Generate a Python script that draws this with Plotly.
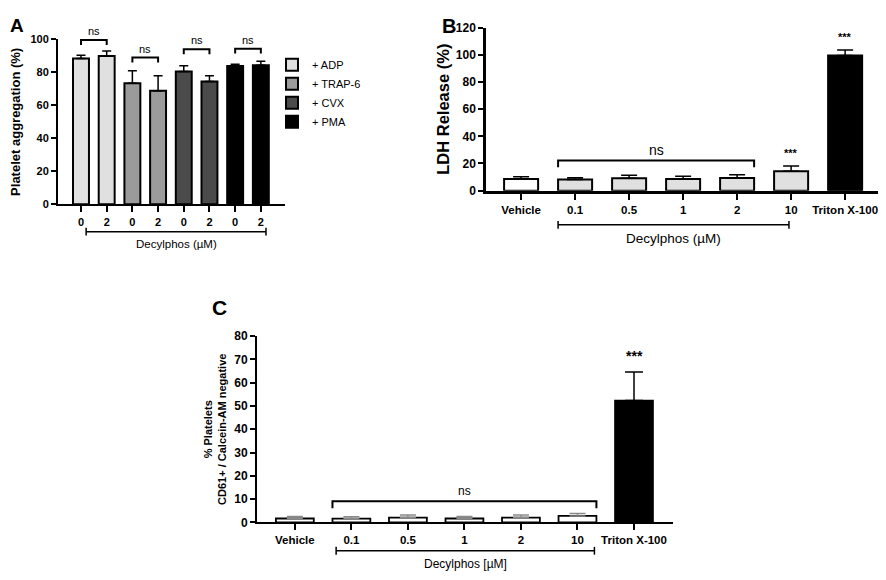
import plotly.graph_objects as go

W, H = 886, 580
OFF = 8  # the page body keeps an 8px margin round the plot
FONT = "Liberation Sans, Arial, sans-serif"

# ---- panel A data: platelet aggregation
a_groups = ["+ ADP", "+ TRAP-6", "+ CVX", "+ PMA"]
a_colors = ["#e0e0e0", "#9b9b9b", "#4b4b4b", "#000000"]
a_doses = ["0", "2"]
a_mean = [[88.4, 90.0], [73.4, 68.8], [80.6, 74.5], [83.8, 84.4]]
a_sd = [[2.0, 3.0], [7.6, 9.1], [3.4, 3.4], [1.2, 2.4]]
a_sig = ["ns", "ns", "ns", "ns"]
a_sig_y = [99.6, 89.0, 94.0, 94.4]

# ---- panel B data: LDH release
b_labels = ["Vehicle", "0.1", "0.5", "1", "2", "10", "Triton X-100"]
b_colors = ["#ffffff", "#e0e0e0", "#e0e0e0", "#e0e0e0", "#e0e0e0", "#e0e0e0", "#000000"]
b_mean = [8.5, 8.3, 9.1, 8.6, 9.3, 14.3, 99.5]
b_sd = [1.8, 1.2, 2.2, 2.0, 2.5, 3.9, 4.0]
b_stars = ["", "", "", "", "", "***", "***"]

# ---- panel C data: CD61+ / Calcein-AM negative
c_labels = ["Vehicle", "0.1", "0.5", "1", "2", "10", "Triton X-100"]
c_colors = ["#ffffff", "#ffffff", "#ffffff", "#ffffff", "#ffffff", "#ffffff", "#000000"]
c_mean = [1.7, 1.6, 2.1, 1.7, 2.1, 2.8, 52.3]
c_sd = [0.8, 0.8, 1.1, 0.9, 1.1, 1.0, 12.3]
c_stars = ["", "", "", "", "", "", "***"]


def fx(pix):
    return (pix - OFF) / W


def py(pix):
    return 1 - (pix - OFF) / H


def yp(v, dom, top):
    return dom[0] + (dom[1] - dom[0]) * v / top


# subplot geometry (paper coords)
A_X, A_Y = [fx(58), fx(285)], [py(202), py(33)]
B_X, B_Y = [fx(486), fx(884)], [py(188), py(21)]
C_X, C_Y = [fx(257), fx(673)], [py(528), py(337)]
A_TOP, B_TOP, C_TOP = 100, 120, 80
BW_A, BW_B, BW_C = 0.62, 0.63, 0.67

fig = go.Figure()

# A bars, one trace per agonist so the legend comes out right
for g, name in enumerate(a_groups):
    fig.add_trace(go.Bar(
        x=[2 * g, 2 * g + 1], y=a_mean[g], name=name,
        width=BW_A, xaxis="x", yaxis="y",
        marker=dict(color=a_colors[g], line=dict(color="black", width=2)),
        error_y=dict(type="data", symmetric=False, array=a_sd[g], arrayminus=[0, 0],
                     color="black", thickness=1.5, width=4.5),
        hoverinfo="skip"))

# B bars
fig.add_trace(go.Bar(
    x=list(range(len(b_labels))), y=b_mean, width=BW_B, showlegend=False,
    xaxis="x2", yaxis="y2",
    marker=dict(color=b_colors, line=dict(color="black", width=2)),
    error_y=dict(type="data", symmetric=False, array=b_sd, arrayminus=[0] * len(b_sd),
                 color="black", thickness=1.5, width=8),
    hoverinfo="skip"))

# C bars: low doses get grey error bars, Triton black
n = len(c_labels) - 1
fig.add_trace(go.Bar(
    x=list(range(n)), y=c_mean[:n], width=BW_C, showlegend=False,
    xaxis="x3", yaxis="y3",
    marker=dict(color=c_colors[:n], line=dict(color="black", width=1.8)),
    error_y=dict(type="data", symmetric=False, array=c_sd[:n], arrayminus=[0] * n,
                 color="#8a8a8a", thickness=1.5, width=8),
    hoverinfo="skip"))
fig.add_trace(go.Bar(
    x=[n], y=c_mean[n:], width=BW_C, showlegend=False,
    xaxis="x3", yaxis="y3",
    marker=dict(color=c_colors[n:], line=dict(color="black", width=1.8)),
    error_y=dict(type="data", symmetric=False, array=c_sd[n:], arrayminus=[0],
                 color="black", thickness=1.5, width=9),
    hoverinfo="skip"))

shapes = []
annos = []
line = dict(color="black", width=2)


def bracket(xref, x0, x1, top, leg, dom, ymax, text, size):
    y0 = yp(top, dom, ymax)
    y1 = yp(top - leg, dom, ymax)
    shapes.append(dict(type="path", xref=xref, yref="paper",
                       path=f"M{x0},{y1} L{x0},{y0} L{x1},{y0} L{x1},{y1}", line=line))
    annos.append(dict(x=(x0 + x1) / 2, y=y0, xref=xref, yref="paper", yanchor="bottom",
                      yshift=1, text=text, showarrow=False,
                      font=dict(size=size, family=FONT, color="black")))


def dose_line(xref, x0, x1, ypix, label, size):
    yl = py(ypix)
    shapes.append(dict(type="line", xref=xref, yref="paper", x0=x0, x1=x1, y0=yl, y1=yl,
                       line=dict(color="black", width=1.5)))
    for xx in (x0, x1):
        shapes.append(dict(type="line", xref=xref, yref="paper", x0=xx, x1=xx,
                           y0=yl - 4 / H, y1=yl + 4 / H, line=dict(color="black", width=1.5)))
    annos.append(dict(x=(x0 + x1) / 2, y=py(ypix + 4), xref=xref, yref="paper",
                      yanchor="top", text=label, showarrow=False,
                      font=dict(size=size, family=FONT, color="black")))


for g, s in enumerate(a_sig):
    bracket("x", 2 * g, 2 * g + 1, a_sig_y[g], 3, A_Y, A_TOP, s, 11)
dose_line("x", 0.2, 7.2, 230, "Decylphos (µM)", 11.5)

bracket("x2", 1 - BW_B / 2, 4 + BW_B / 2, 22.2, 5, B_Y, B_TOP, "ns", 14)
dose_line("x2", 1 - BW_B / 2, 4.96, 223, "Decylphos (µM)", 13.5)
for i, s in enumerate(b_stars):
    if s:
        annos.append(dict(x=i, y=yp(b_mean[i] + b_sd[i], B_Y, B_TOP), xref="x2", yref="paper",
                          yanchor="bottom", yshift=5, text=s, showarrow=False,
                          font=dict(size=11, family=FONT, color="black", weight="bold")))

bracket("x3", 1 - BW_C / 2, 5 + BW_C / 2, 9.1, 3, C_Y, C_TOP, "ns", 12)
dose_line("x3", 0.73, 5.3, 557, "Decylphos [µM]", 12)
for i, s in enumerate(c_stars):
    if s:
        annos.append(dict(x=i, y=yp(c_mean[i] + c_sd[i], C_Y, C_TOP), xref="x3", yref="paper",
                          yanchor="bottom", yshift=6, text=s, showarrow=False,
                          font=dict(size=14, family=FONT, color="black", weight="bold")))

# panel letters (kept clear of the page edge)
for letter, xx, yy, sz in [("A", 17, 19, 19), ("B", 449, 19, 20), ("C", 219, 308, 21)]:
    annos.append(dict(x=fx(xx), y=py(yy), xref="paper", yref="paper", text=letter,
                      showarrow=False, xanchor="center", yanchor="middle",
                      font=dict(size=sz, family=FONT, color="black", weight="bold")))

axis_common = dict(showline=True, linecolor="black", ticks="outside", tickcolor="black",
                   showgrid=False, zeroline=False, fixedrange=True)
tick_b = lambda s: dict(size=s, family=FONT, color="black", weight="bold")

fig.update_layout(
    width=W, height=H, margin=dict(l=0, r=0, t=0, b=0),
    paper_bgcolor="white", plot_bgcolor="white", barmode="overlay",
    font=dict(family=FONT, color="black"),
    xaxis=dict(axis_common, domain=A_X, anchor="y", range=[-0.895, 7.94],
               tickvals=list(range(8)), ticktext=a_doses * 4, linewidth=2, tickwidth=2,
               ticklen=6, tickfont=tick_b(11)),
    yaxis=dict(axis_common, domain=A_Y, anchor="x", range=[0, A_TOP], dtick=20,
               linewidth=2, tickwidth=2, ticklen=5, tickfont=tick_b(11),
               title=dict(text="Platelet aggregation (%)", standoff=8,
                          font=dict(size=13, family=FONT, weight="bold"))),
    xaxis2=dict(axis_common, domain=B_X, anchor="y2", range=[-0.65, 6.72],
                tickvals=list(range(len(b_labels))), ticktext=b_labels, linewidth=2.5,
                tickwidth=2, ticklen=7, tickfont=tick_b(11.5)),
    yaxis2=dict(axis_common, domain=B_Y, anchor="x2", range=[0, B_TOP], dtick=20,
                linewidth=2.5, tickwidth=2, ticklen=5, tickfont=tick_b(12),
                title=dict(text="LDH Release (%)", standoff=3,
                           font=dict(size=16.5, family=FONT, weight="bold"))),
    xaxis3=dict(axis_common, domain=C_X, anchor="y3", range=[-0.67, 6.69],
                tickvals=list(range(len(c_labels))), ticktext=c_labels, linewidth=2,
                tickwidth=2, ticklen=6, tickfont=tick_b(11.5)),
    yaxis3=dict(axis_common, domain=C_Y, anchor="x3", range=[0, C_TOP], dtick=10,
                linewidth=2, tickwidth=2, ticklen=5, tickfont=tick_b(12),
                title=dict(text="% Platelets<br>CD61+ / Calcein-AM negative", standoff=5,
                           font=dict(size=11, family=FONT, weight="bold"))),
    legend=dict(x=fx(312 - 40), y=py(44), xanchor="left", yanchor="top",
                font=dict(size=11, family=FONT, color="black"), tracegroupgap=0,
                bgcolor="rgba(0,0,0,0)"),
    shapes=shapes, annotations=annos,
)

fig.write_html("out.html")
